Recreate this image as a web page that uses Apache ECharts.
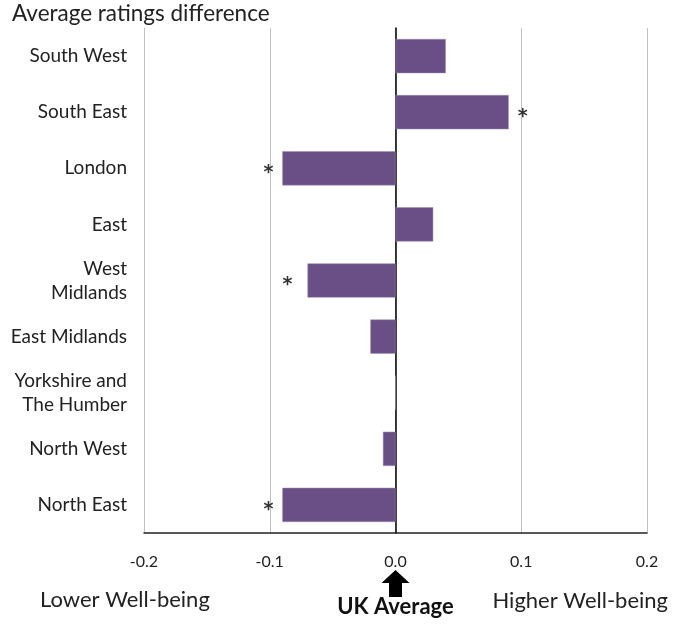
<!DOCTYPE html>
<html>
<head>
<meta charset="utf-8">
<script src="https://cdn.jsdelivr.net/npm/echarts@6/dist/echarts.min.js"></script>
<style>html,body{margin:0;padding:0;background:#fff}#c{width:685px;height:624px}</style>
</head>
<body>
<div id="c"></div>
<script>
const regions = ['South West','South East','London','East','West\nMidlands','East Midlands','Yorkshire and\nThe Humber','North West','North East'];
const values = [0.04, 0.09, -0.09, 0.03, -0.07, -0.02, 0, -0.01, -0.09];
const significant = [false, true, true, false, true, false, false, false, true];
const xTicks = [-0.2, -0.1, 0, 0.1, 0.2];

const FONT = 'Lato';
const barColor = '#6a4f86';
const chart = echarts.init(document.getElementById('c'), null, {renderer: 'canvas'});

const data = values.map((v, i) => ({
  value: v,
  label: significant[i] ? {
    show: true,
    formatter: '*',
    position: v >= 0 ? 'right' : 'left',
    distance: i === 4 ? 15 : 9,
    offset: [0, 5]
  } : {show: false}
}));

const titleText = {type: 'text', left: 12, top: 2, style: {text: 'Average ratings difference', fontFamily: FONT, fontSize: 22.5, fill: '#222'}};

chart.setOption({
  animation: false,
  grid: {left: 144, right: 38, top: 28, bottom: 91, containLabel: false},
  xAxis: {
    type: 'value', min: -0.2, max: 0.2, interval: 0.1,
    axisLine: {show: true, onZero: false, lineStyle: {color: '#222', width: 1.5}},
    axisTick: {show: false},
    splitLine: {show: true, lineStyle: {color: '#c0c0c0', width: 1}},
    axisLabel: {
      margin: 21, fontFamily: FONT, fontSize: 16, color: '#222',
      formatter: v => { const t = xTicks.find(x => Math.abs(x - v) < 1e-9); return (t !== undefined ? t : v).toFixed(1); }
    }
  },
  yAxis: {
    type: 'category', inverse: true, data: regions,
    axisLine: {show: true, onZero: true, lineStyle: {color: '#000', width: 1.5}},
    axisTick: {show: false},
    axisLabel: {margin: 17, fontFamily: FONT, fontSize: 19, color: '#222', lineHeight: 24, align: 'right'}
  },
  series: [{
    type: 'bar', data: data, barWidth: '61%',
    itemStyle: {color: barColor, borderColor: '#9d8fb2', borderWidth: 0.5},
    label: {fontFamily: 'DejaVu Sans', fontSize: 19, fontWeight: 'bold', color: '#333'},
    z: 1
  }],
  graphic: [titleText]
});

// Decorations placed relative to axis pixel positions
const x0 = chart.convertToPixel({xAxisIndex: 0}, 0);
const xL = chart.convertToPixel({xAxisIndex: 0}, -0.2);
const xR = chart.convertToPixel({xAxisIndex: 0}, 0.2);
chart.setOption({
  graphic: [
    titleText,
    {type: 'polygon', shape: {points: [[x0, 570], [x0 + 14, 583], [x0 + 6.5, 583], [x0 + 6.5, 597], [x0 - 6.5, 597], [x0 - 6.5, 583], [x0 - 14, 583]]}, style: {fill: '#000'}},
    {type: 'text', x: x0, y: 596, style: {text: 'UK Average', fontFamily: FONT, fontSize: 22, fontWeight: 'bold', fill: '#111', align: 'center'}},
    {type: 'text', x: xL - 104, y: 589, style: {text: 'Lower Well-being', fontFamily: FONT, fontSize: 22, fill: '#222', align: 'left'}},
    {type: 'text', x: xR + 21, y: 590, style: {text: 'Higher Well-being', fontFamily: FONT, fontSize: 22, fill: '#222', align: 'right'}}
  ]
});
</script>
</body>
</html>
